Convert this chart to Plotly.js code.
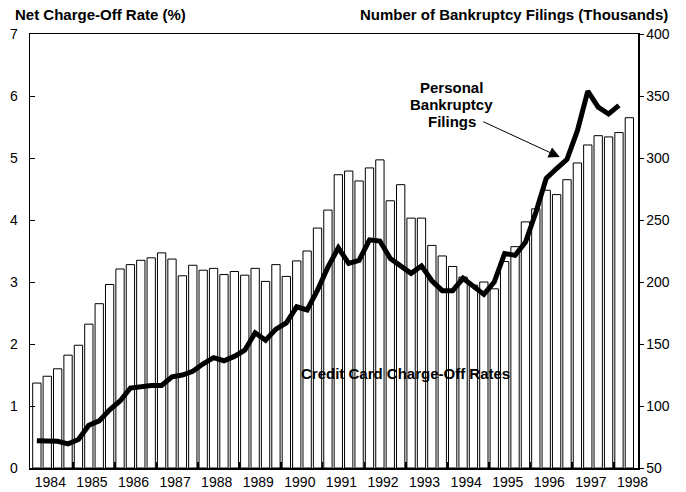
<!DOCTYPE html>
<html>
<head>
<meta charset="utf-8">
<script src="https://cdn.plot.ly/plotly-3.0.1.min.js"></script>
<style>
  html, body { margin: 0; padding: 0; background: #fff; }
  #chart { width: 686px; height: 492px; }
</style>
</head>
<body>
<div id="chart"></div>
<script>
// quarterly data, 1984 Q1 .. 1998 Q2
var years = [1984, 1985, 1986, 1987, 1988, 1989, 1990, 1991, 1992, 1993, 1994, 1995, 1996, 1997, 1998];

// credit card net charge-off rate (%), left axis
var chargeOffRate = [
  1.37, 1.48, 1.60, 1.82,
  1.98, 2.32, 2.65, 2.96,
  3.21, 3.28, 3.35, 3.39,
  3.47, 3.37, 3.10, 3.27,
  3.19, 3.22, 3.12, 3.17,
  3.11, 3.22, 3.01, 3.28,
  3.09, 3.34, 3.50, 3.87,
  4.16, 4.73, 4.79, 4.63,
  4.84, 4.97, 4.31, 4.57,
  4.03, 4.03, 3.59, 3.42,
  3.25, 3.08, 2.95, 3.00,
  2.89, 3.33, 3.57, 3.97,
  4.18, 4.48, 4.41, 4.65,
  4.92, 5.21, 5.36, 5.34,
  5.41, 5.65
];

// personal bankruptcy filings (thousands), right axis, 1984 Q1 .. 1998 Q1
var filings = [
  72, 72, 71.5, 69.5,
  73, 84.5, 88, 97,
  104, 114.5, 116, 116.5,
  116.5, 123.5, 125, 128,
  134, 139, 136.5, 140,
  145, 159, 153, 162,
  167, 180, 177.5, 193.5,
  212, 227.5, 215, 217.5,
  234, 233, 219, 213,
  207, 213, 201, 193,
  193, 203, 196.5, 190,
  200, 223, 221.5, 232,
  256, 283.5, 291.5, 299,
  322, 354, 341, 335.5,
  342.5
];

var font = 'Liberation Sans, Arial, sans-serif';

var barX = chargeOffRate.map(function (v, i) { return i; });
var lineX = filings.map(function (v, i) { return i; });

// year labels sit in the middle of each year, tick marks between years
var labelVals = years.map(function (y) { return (y - 1984) * 4 + 1.3; });
var labelText = years.map(function (y) { return String(y); });
var boundaryVals = [];
for (var k = 1; k < years.length; k++) boundaryVals.push(k * 4 - 0.5);

var data = [
  {
    type: 'bar',
    x: barX,
    y: chargeOffRate,
    marker: { color: '#ffffff', line: { color: '#000000', width: 1 } },
    hoverinfo: 'skip'
  },
  {
    type: 'scatter',
    mode: 'lines',
    x: lineX,
    y: filings,
    yaxis: 'y2',
    line: { color: '#000000', width: 5 },
    hoverinfo: 'skip'
  }
];

var layout = {
  width: 686,
  height: 492,
  margin: { l: 30, r: 48, t: 34, b: 24 },
  paper_bgcolor: '#ffffff',
  plot_bgcolor: '#ffffff',
  showlegend: false,
  bargap: 0.2,
  font: { family: font, size: 14, color: '#000' },
  xaxis: {
    range: [-0.66, 57.83],
    tickmode: 'array',
    tickvals: labelVals,
    ticktext: labelText,
    ticks: '',
    showgrid: false,
    zeroline: false,
    showline: true,
    mirror: true,
    linecolor: '#000',
    linewidth: 1.5,
    ticklabelstandoff: 1,
    minor: {
      tickmode: 'array',
      tickvals: boundaryVals,
      ticks: 'inside',
      ticklen: 6,
      tickwidth: 1.5,
      tickcolor: '#000',
      showgrid: false
    },
    tickfont: { family: font, size: 14 }
  },
  yaxis: {
    range: [0, 7],
    dtick: 1,
    ticks: 'inside',
    ticklen: 5,
    tickwidth: 1,
    tickcolor: '#000',
    showgrid: false,
    zeroline: false,
    showline: true,
    linecolor: '#000',
    linewidth: 1.5,
    ticklabelstandoff: 8,
    tickfont: { family: font, size: 14 }
  },
  yaxis2: {
    range: [50, 400],
    dtick: 50,
    overlaying: 'y',
    side: 'right',
    ticks: 'outside',
    ticklen: 4,
    tickwidth: 1,
    tickcolor: '#000',
    showgrid: false,
    zeroline: false,
    showline: true,
    linecolor: '#000',
    linewidth: 1.5,
    tickfont: { family: font, size: 14 }
  },
  annotations: [
    { xref: 'paper', yref: 'paper', x: -0.0284, y: 1.045, xanchor: 'left', yanchor: 'middle',
      text: '<b>Net Charge-Off Rate (%)</b>', showarrow: false, font: { family: font, size: 15 } },
    { xref: 'paper', yref: 'paper', x: 1.052, y: 1.045, xanchor: 'right', yanchor: 'middle',
      text: '<b>Number of Bankruptcy Filings (Thousands)</b>', showarrow: false, font: { family: font, size: 15 } },
    { xref: 'x', yref: 'y2', x: 39.9, y: 356.7, text: '<b>Personal</b>', showarrow: false,
      font: { family: font, size: 15 } },
    { xref: 'x', yref: 'y2', x: 39.9, y: 343.2, text: '<b>Bankruptcy</b>', showarrow: false,
      font: { family: font, size: 15 } },
    { xref: 'x', yref: 'y2', x: 39.9, y: 329.7, text: '<b>Filings</b>', showarrow: false,
      font: { family: font, size: 15 } },
    { xref: 'x', yref: 'y2', x: 50.3, y: 300.8, ax: -78, ay: -36, text: '',
      showarrow: true, arrowhead: 2, arrowsize: 2.2, arrowwidth: 1, arrowcolor: '#000' },
    { xref: 'x', yref: 'y', x: 35.5, y: 1.53, text: '<b>Credit Card Charge-Off Rates</b>', showarrow: false,
      font: { family: font, size: 15 } }
  ]
};

Plotly.newPlot('chart', data, layout, { staticPlot: true, displayModeBar: false });
</script>
</body>
</html>
